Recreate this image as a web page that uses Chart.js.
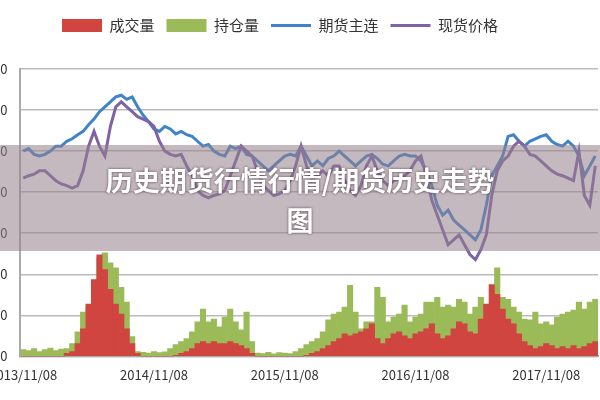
<!DOCTYPE html>
<html>
<head>
<meta charset="utf-8">
<script src="https://cdn.jsdelivr.net/npm/chart.js@4.4.0/dist/chart.umd.min.js"></script>
<style>
  html, body { margin: 0; padding: 0; background: #fff; overflow: hidden; }
  #wrap { position: relative; width: 600px; height: 400px; overflow: hidden; }
  #box { position: absolute; left: -58px; top: 0; width: 658px; height: 400px; }
  #band {
    position: absolute; left: 0; top: 145px; width: 600px; height: 106px;
    background: rgba(150, 128, 140, 0.55);
  }
  #title {
    position: absolute; left: 0; top: 160px; width: 600px; text-align: center;
    color: #fff; font: bold 27px "Noto Sans CJK SC", sans-serif; line-height: 40px;
    text-shadow: 0 0 3px rgba(60, 40, 50, 0.8);
  }
</style>
</head>
<body>
<div id="wrap">
  <div id="box"><canvas id="chart"></canvas></div>
  <div id="band"></div>
  <div id="title">历史期货行情行情/期货历史走势<br>图</div>
</div>
<script>
// Series, half-monthly from 2013/11
const volume = [0,0,0,0,0,0,0,0,36,60,156,336,636,936,1236,1056,816,636,516,336,156,36,0,0,0,0,0,0,12,36,60,96,156,180,156,180,156,156,180,156,132,96,36,0,0,0,0,0,0,0,0,0,12,36,60,96,132,180,216,276,252,276,300,336,396,216,156,216,276,300,252,216,276,300,336,396,276,216,252,336,420,396,300,276,456,636,876,756,576,456,396,276,180,132,96,120,156,132,96,120,96,132,96,120,156,180];
const openInterest = [84,70,96,60,84,100,72,90,96,156,300,540,600,540,1200,1260,1140,1080,840,660,240,60,50,40,60,45,55,96,144,180,216,300,420,576,420,456,360,480,576,420,324,540,180,40,35,50,30,45,40,35,60,96,144,180,216,300,444,516,540,600,864,540,336,420,420,840,720,420,480,516,624,420,480,516,660,660,720,600,624,600,696,660,516,600,720,600,600,1080,720,696,600,540,456,444,540,396,420,384,480,516,540,564,660,576,660,696];
const futuresMain = [2500,2530,2460,2440,2460,2500,2560,2560,2620,2650,2700,2740,2820,2890,2980,3040,3100,3160,3180,3130,3160,3040,2940,2860,2770,2740,2800,2770,2710,2740,2700,2680,2620,2560,2580,2500,2460,2440,2560,2530,2560,2460,2440,2380,2320,2260,2320,2380,2440,2460,2440,2560,2440,2320,2380,2320,2410,2440,2500,2440,2380,2320,2380,2440,2460,2410,2340,2320,2380,2440,2460,2440,2440,2380,2260,2080,1840,1720,1780,1660,1600,1540,1480,1420,1540,1840,2200,2320,2440,2680,2700,2620,2560,2620,2650,2680,2700,2620,2580,2560,2620,2560,2440,2200,2320,2440];
const spotPrice = [2170,2200,2220,2260,2260,2200,2140,2100,2080,2050,2080,2260,2560,2740,2560,2440,2800,3040,3100,3040,2980,2920,2890,2860,2800,2620,2500,2460,2440,2460,2320,2200,2020,1960,1930,1960,1980,2020,2200,2380,2560,2500,2440,2260,2080,2020,1960,1980,2020,2140,2320,2560,2320,2140,2200,2260,2200,2320,2320,2140,2020,1960,2080,2320,2440,2260,2140,2080,2140,2170,2200,2260,2380,2440,2200,1900,1720,1540,1360,1420,1480,1360,1240,1180,1300,1480,1960,2260,2380,2440,2560,2620,2560,2460,2440,2380,2320,2260,2220,2200,2170,2140,2500,1960,1840,2320];
const yTicks = [0, 500, 1000, 1500, 2000, 2500, 3000, 3500];

// Date labels, 08 and 23 of each month
const labels = [];
for (let k = 0; k < volume.length; k++) {
    const m = 10 + Math.floor(k / 2);
    const y = 2013 + Math.floor(m / 12);
    const mm = String(m % 12 + 1).padStart(2, '0');
    labels.push(y + '/' + mm + '/' + (k % 2 ? '23' : '08'));
}

const font = { family: '"Noto Sans CJK SC", "DejaVu Sans", sans-serif', size: 13 };

// Extra space under the legend
const legendGap = {
    id: 'legendGap',
    beforeInit(chart) {
        const fit = chart.legend.fit;
        chart.legend.fit = function() { fit.bind(chart.legend)(); this.height += 26; };
    }
};

new Chart(document.getElementById('chart').getContext('2d'), {
    data: {
        labels: labels,
        datasets: [
            { type: 'line', label: '期货主连', data: futuresMain, borderColor: '#3f83c9', backgroundColor: '#3f83c9', borderWidth: 3, pointRadius: 0, tension: 0, order: 1 },
            { type: 'line', label: '现货价格', data: spotPrice, borderColor: '#7d62a6', backgroundColor: '#7d62a6', borderWidth: 3, pointRadius: 0, tension: 0, order: 0 },
            { type: 'bar', label: '成交量', data: volume, backgroundColor: '#d0453f', stack: 's', barPercentage: 1, categoryPercentage: 1, order: 3 },
            { type: 'bar', label: '持仓量', data: openInterest, backgroundColor: '#9bbb59', stack: 's', barPercentage: 1, categoryPercentage: 1, order: 3 }
        ]
    },
    plugins: [legendGap],
    options: {
        responsive: true,
        maintainAspectRatio: false,
        animation: false,
        layout: { padding: { top: 6, right: 2, bottom: 14, left: 20 } },
        plugins: {
            legend: {
                position: 'top',
                labels: {
                    font: { family: font.family, size: 15 }, color: '#333', usePointStyle: true,
                    pointStyleWidth: 40, boxHeight: 13, padding: 12,
                    generateLabels: chart => {
                        const order = [2, 3, 0, 1];
                        return order.map(i => {
                            const ds = chart.data.datasets[i];
                            return {
                                text: ds.label, fillStyle: ds.backgroundColor, strokeStyle: ds.backgroundColor,
                                lineWidth: ds.type === 'line' ? 3 : 0, pointStyle: ds.type === 'line' ? 'line' : 'rect',
                                datasetIndex: i, hidden: false, fontColor: '#333'
                            };
                        });
                    }
                }
            },
            tooltip: { enabled: false }
        },
        scales: {
            x: {
                stacked: true,
                grid: { display: false, drawTicks: true },
                border: { color: '#aaa', width: 2 },
                ticks: {
                    autoSkip: false, maxRotation: 0, color: '#333', font: font,
                    callback: function(v, i) { return labels[i].endsWith('/11/08') ? labels[i] : ''; }
                }
            },
            y: {
                stacked: false,
                min: 0, max: 3500,
                afterBuildTicks: axis => { axis.ticks = yTicks.map(v => ({ value: v })); },
                grid: { color: '#bbb', lineWidth: 1.5, drawTicks: false },
                border: { color: '#aaa', width: 2 },
                ticks: { color: '#333', font: font, padding: 13 }
            }
        }
    }
});
</script>
</body>
</html>
